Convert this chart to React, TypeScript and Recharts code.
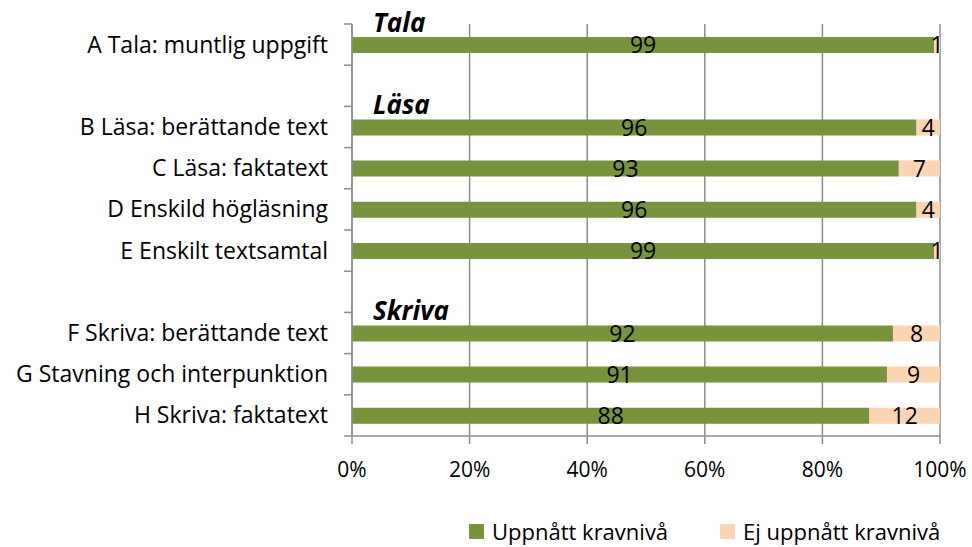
import { BarChart, Bar, XAxis, YAxis, CartesianGrid, LabelList, Legend } from "recharts";

// rows from top to bottom, "" = empty spacer row between groups
const categories = [
  "A Tala: muntlig uppgift",
  "",
  "B Läsa: berättande text",
  "C Läsa: faktatext",
  "D Enskild högläsning",
  "E Enskilt textsamtal",
  "",
  "F Skriva: berättande text",
  "G Stavning och interpunktion",
  "H Skriva: faktatext",
];
const headers = ["Tala", "", "Läsa", "", "", "", "", "Skriva", "", ""];
const achieved = [99, null, 96, 93, 96, 99, null, 92, 91, 88];
const notAchieved = [1, null, 4, 7, 4, 1, null, 8, 9, 12];
const xTicks = [0, 20, 40, 60, 80, 100];
const seriesNames = ["Uppnått kravnivå", "Ej uppnått kravnivå"];

const GREEN = "#77933C";
const PEACH = "#FCD5B5";
const GRAY = "#8C8C8C";
const FONT = "'Open Sans', Lato, sans-serif";

const W = 972;
const H = 547;
const TOP = 24;
const RIGHT = 32;
const YAXIS_W = 352;
const LEGEND_H = 32;
const XAXIS_H = 79;
const PLOT_H = H - TOP - LEGEND_H - XAXIS_H;

const data = categories.map((name, i) => ({
  name,
  header: headers[i],
  achieved: achieved[i],
  notAchieved: notAchieved[i],
}));

function YTick(props: any) {
  const { y, payload, index } = props;
  const band = PLOT_H / categories.length;
  const last = index === categories.length - 1;
  return (
    <g>
      <line x1={YAXIS_W - 8} x2={YAXIS_W} y1={y - band / 2} y2={y - band / 2} stroke={GRAY} strokeWidth={1.5} />
      {last && (
        <line x1={YAXIS_W - 8} x2={YAXIS_W} y1={y + band / 2} y2={y + band / 2} stroke={GRAY} strokeWidth={1.5} />
      )}
      <text x={YAXIS_W - 24} y={y} dy="0.35em" textAnchor="end" fill="#000" fontSize={23} fontFamily={FONT}>
        {payload.value}
      </text>
    </g>
  );
}

function HeaderLabel(props: any) {
  const vb = props.viewBox ?? props;
  if (!props.value) return null;
  return (
    <text x={vb.x + 21} y={vb.y - 5} fill="#000" fontSize={26} fontWeight="bold" fontStyle="italic" fontFamily={FONT}>
      {props.value}
    </text>
  );
}

function LegendContent() {
  const colors = [GREEN, PEACH];
  return (
    <div
      style={{
        display: "flex",
        alignItems: "center",
        height: LEGEND_H,
        paddingLeft: 469,
        fontFamily: FONT,
        fontSize: 22,
        lineHeight: "26px",
        color: "#000",
        whiteSpace: "nowrap",
        width: W - 469,
        boxSizing: "content-box",
      }}
    >
      {seriesNames.map((s, i) => (
        <div key={s} style={{ display: "flex", alignItems: "center", marginRight: 52, flexShrink: 0 }}>
          <span style={{ width: 15, height: 15, background: colors[i], marginRight: 8, display: "inline-block", flexShrink: 0 }} />
          <span>{s}</span>
        </div>
      ))}
    </div>
  );
}

export default function App() {
  return (
    <div style={{ width: W, height: H, background: "#fff" }}>
      <style>{"body{margin:0}"}</style>
      <BarChart
        width={W}
        height={H}
        data={data}
        layout="vertical"
        margin={{ top: TOP, right: RIGHT, bottom: 0, left: 0 }}
        barSize={16}
        style={{ fontFamily: FONT }}
      >
        <CartesianGrid horizontal={false} stroke={GRAY} strokeWidth={1.5} />
        <XAxis
          type="number"
          domain={[0, 100]}
          ticks={xTicks}
          tickFormatter={(v) => `${v}%`}
          height={XAXIS_H}
          tickSize={8}
          tickMargin={18}
          stroke={GRAY}
          strokeWidth={1.5}
          tick={{ fill: "#000", fontSize: 21, fontFamily: FONT }}
        />
        <YAxis
          type="category"
          dataKey="name"
          width={YAXIS_W}
          interval={0}
          tickLine={false}
          stroke={GRAY}
          strokeWidth={1.5}
          tick={YTick}
        />
        <Legend verticalAlign="bottom" content={LegendContent} wrapperStyle={{ width: W, left: 0 }} />
        <Bar dataKey="achieved" stackId="a" fill={GREEN} name={seriesNames[0]} isAnimationActive={false}>
          <LabelList dataKey="achieved" position="center" fill="#000" fontSize={23} fontFamily={FONT} />
          <LabelList dataKey="header" content={HeaderLabel} />
        </Bar>
        <Bar dataKey="notAchieved" stackId="a" fill={PEACH} name={seriesNames[1]} isAnimationActive={false}>
          <LabelList dataKey="notAchieved" position="center" fill="#000" fontSize={23} fontFamily={FONT} />
        </Bar>
      </BarChart>
    </div>
  );
}
